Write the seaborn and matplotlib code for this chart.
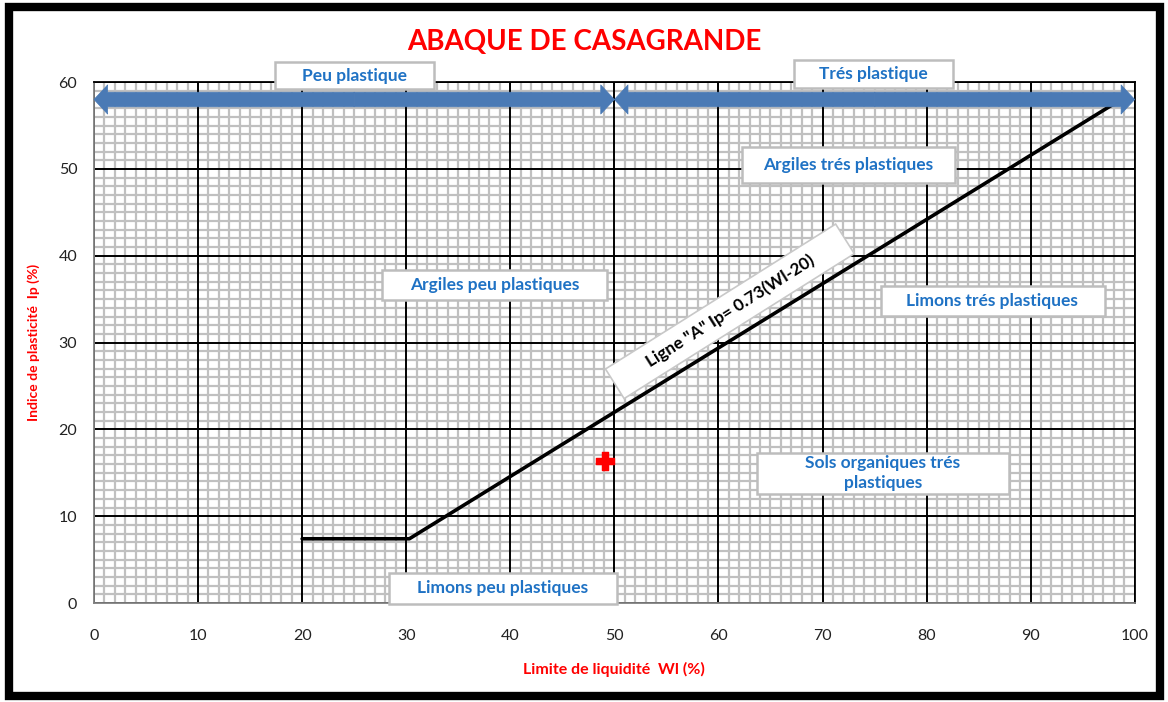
import numpy as np
import pandas as pd
import matplotlib.pyplot as plt
import matplotlib.patches as mpatches
from matplotlib.transforms import Affine2D
import seaborn as sns

# ligne A
wl_ligne = [20, 30.3, 98]
ip_ligne = [7.4, 7.4, 57.5]

# point mesuré
wl_point = [49.1]
ip_point = [16.4]

# zones (texte, centre)
zones = ["Argiles trés plastiques", "Argiles peu plastiques", "Limons trés plastiques",
         "Sols organiques trés\nplastiques", "Limons peu plastiques"]
zones_x = [72.5, 38.5, 86.3, 75.8, 39.3]
zones_y = [50.5, 36.6, 34.8, 15.0, 1.7]

domaines = ["Peu plastique", "Trés plastique"]
domaines_x = [25.0, 74.9]
domaines_y = [60.75, 60.9]
fleches = [(0, 50), (50, 100)]
y_fleche = 58

xticks = list(range(0, 101, 10))
yticks = list(range(0, 61, 10))

# cadres des étiquettes (x0, x1, y0, y1) en unités du graphique
cadres_zones = [(62.3, 82.7, 48.4, 52.5), (27.7, 49.3, 34.9, 38.4), (75.6, 97.1, 33.1, 36.5),
                (63.7, 87.9, 12.6, 17.3), (28.3, 50.3, -0.1, 3.5)]
cadres_domaines = [(17.4, 32.7, 59.2, 62.3), (67.3, 82.5, 59.3, 62.6)]

sns.set_style("white")
plt.rcParams['font.family'] = ['Lato', 'DejaVu Sans']

fig = plt.figure(figsize=(11.68, 7.02), dpi=100)
ax = fig.add_axes([0.0805, 0.141, 0.891, 0.742])
ax.set_xlim(0, 100)
ax.set_ylim(0, 60)

# quadrillage
ax.set_xticks(xticks)
ax.set_yticks(yticks)
ax.set_xticks(np.arange(0, 101, 1), minor=True)
ax.set_yticks(np.arange(0, 61, 1), minor=True)
ax.grid(which='minor', color='#c0c0c0', lw=1.6, zorder=0.5)
ax.vlines(xticks, 0, 60, color='black', lw=1.4, zorder=0.8)
ax.hlines(yticks, 0, 100, color='black', lw=1.4, zorder=0.8)
ax.set_axisbelow(True)
ax.tick_params(which='both', length=0)
ax.tick_params(axis='x', pad=19, labelsize=11.5, labelcolor='#222222')
ax.tick_params(axis='y', pad=12, labelsize=11.5, labelcolor='#222222')
for s in ax.spines.values():
    s.set_color('#808080')
    s.set_linewidth(1.3)
ax.spines['top'].set_color('black')
ax.spines['right'].set_color('black')

df_ligne = pd.DataFrame({'wl': wl_ligne, 'ip': ip_ligne})
sns.lineplot(data=df_ligne, x='wl', y='ip', color='black', lw=2.6, ax=ax, sort=False, zorder=3)
df_point = pd.DataFrame({'wl': wl_point, 'ip': ip_point})
sns.scatterplot(data=df_point, x='wl', y='ip', marker='P', s=170, color='red',
                edgecolor='red', ax=ax, zorder=5)

# fleches
for (x0, x1) in fleches:
    xm = (x0 + x1) / 2
    for xe in (x0, x1):
        ax.annotate('', xy=(xe, y_fleche), xytext=(xm, y_fleche),
                    arrowprops=dict(arrowstyle='simple,head_length=0.7,head_width=1.5,tail_width=0.75',
                                    fc='#4a7ab5', ec='#4a7ab5', lw=0.5, shrinkA=0, shrinkB=0,
                                    mutation_scale=14),
                    annotation_clip=False, zorder=6)

# étiquettes
bleu = '#1f72c4'
for (x0, x1, y0, y1) in cadres_zones + cadres_domaines:
    ax.add_patch(mpatches.Rectangle((x0, y0), x1 - x0, y1 - y0, fc='white', ec='#bdbdbd',
                                    lw=1.8, zorder=7, clip_on=False))
for t, x, y in zip(domaines, domaines_x, domaines_y):
    ax.text(x, y, t, ha='center', va='center', color=bleu, fontsize=12.5,
            fontweight='bold', clip_on=False, zorder=8)
for t, x, y in zip(zones, zones_x, zones_y):
    ax.text(x, y, t, ha='center', va='center', color=bleu, fontsize=12.5,
            fontweight='bold', zorder=8, linespacing=1.35)

# étiquette de la ligne A (cadre tourné)
cx, cy = ax.transData.transform((61.1, 33.6))
rot = Affine2D().rotate_deg_around(cx, cy, 32.2)
ax.add_patch(mpatches.Rectangle((cx - 136, cy - 17.5), 272, 35, transform=rot,
                                fc='white', ec='#c8c8c8', lw=1.2, zorder=7))
ax.text(61.1, 33.6, 'Ligne "A" Ip= 0.73(Wl-20)', rotation=32.2, ha='center', va='center',
        color='black', fontsize=12.3, fontweight='bold', zorder=8, rotation_mode='anchor')

ax.set_xlabel('Limite de liquidité  Wl (%)', color='red', fontweight='bold', fontsize=11.5)
ax.xaxis.set_label_coords(0.5, -0.113)
ax.set_ylabel('Indice de plasticité  Ip (%)', color='red', fontweight='bold', fontsize=10)
ax.yaxis.set_label_coords(-0.052, 0.5)
fig.text(0.5, 0.94, 'ABAQUE DE CASAGRANDE', ha='center', va='center', color='red',
         fontsize=20, fontweight='bold')

# cadre
fig.patches.append(mpatches.Rectangle((0.008, 0.008), 0.985, 0.982, transform=fig.transFigure,
                                      fill=False, ec='black', lw=6))

fig.savefig('out.png', dpi=100)
